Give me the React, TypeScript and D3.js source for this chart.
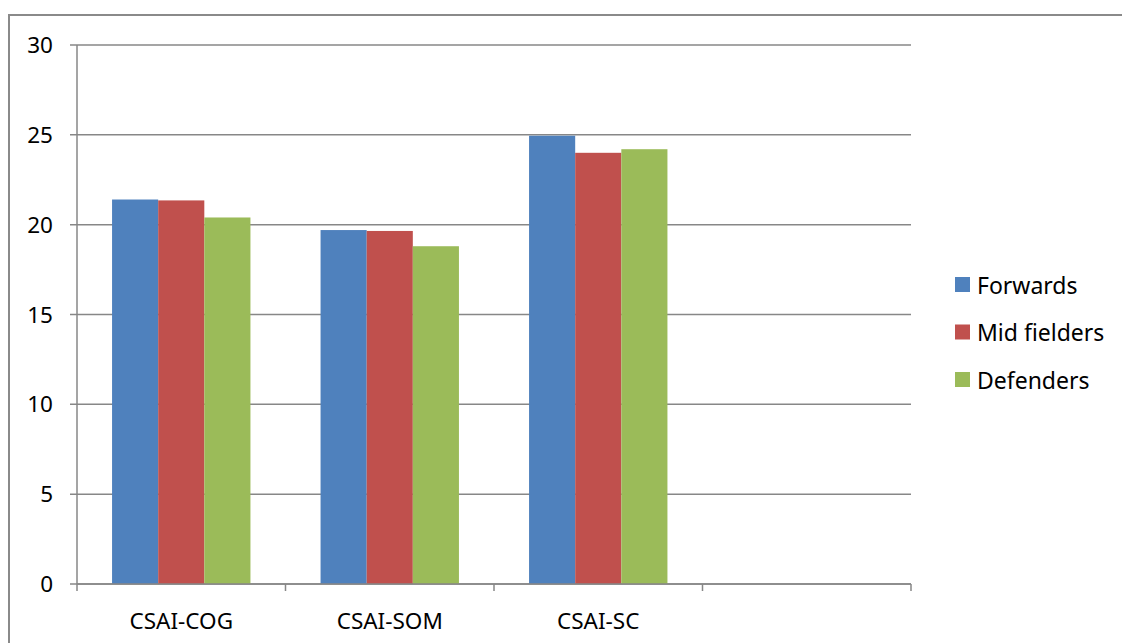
import * as d3 from 'd3';
import React from 'react';

const categories = ['CSAI-COG', 'CSAI-SOM', 'CSAI-SC', ''];
const seriesNames = ['Forwards', 'Mid fielders', 'Defenders'];
const forwards = [21.4, 19.7, 24.95];
const midFielders = [21.35, 19.65, 24.0];
const defenders = [20.4, 18.8, 24.2];
const yTicks = [0, 5, 10, 15, 20, 25, 30];
const colors = ['#4F81BD', '#C0504D', '#9BBB59'];

const W = 1122;
const H = 643;
const plot = { left: 77, right: 911, top: 45, bottom: 584 };
const font = "'Noto Sans', 'Open Sans', sans-serif";
const gridColor = '#878787';

const App = () => {
  const values = [forwards, midFielders, defenders];

  const x0 = d3
    .scaleBand<string>()
    .domain(categories)
    .range([plot.left, plot.right])
    .paddingInner(0)
    .paddingOuter(0);

  const x1 = d3
    .scaleBand<string>()
    .domain(seriesNames)
    .range([0, x0.bandwidth()])
    .paddingInner(0)
    .paddingOuter(0.76);

  const y = d3.scaleLinear().domain([0, 30]).range([plot.bottom, plot.top]);

  // boundaries between categories, for the tick marks under the axis
  const boundaries = categories.map((c) => x0(c) as number).concat(plot.right);

  return (
    <svg
      width={W}
      height={H}
      style={{ position: 'absolute', left: 0, top: 0, background: 'white' }}
    >
      {/* outer chart border */}
      <path d={`M9,${H + 2} V15 H${W + 2}`} fill="none" stroke="#8a8a8a" strokeWidth={2} />

      {/* gridlines, they stick out on the left as tick marks */}
      {yTicks.map((t) => (
        <line
          key={t}
          x1={plot.left - 7}
          x2={plot.right}
          y1={y(t)}
          y2={y(t)}
          stroke={gridColor}
          strokeWidth={1.5}
        />
      ))}
      {yTicks.map((t) => (
        <text
          key={'l' + t}
          x={53}
          y={y(t)}
          dy="0.36em"
          textAnchor="end"
          fontFamily={font}
          fontSize={22.5}
          fill="#000"
        >
          {t}
        </text>
      ))}

      {/* bars */}
      {values.map((vals, si) =>
        vals.map((v, ci) => (
          <rect
            key={si + '-' + ci}
            x={(x0(categories[ci]) as number) + (x1(seriesNames[si]) as number)}
            y={y(v)}
            width={x1.bandwidth()}
            height={y(0) - y(v)}
            fill={colors[si]}
          />
        ))
      )}

      {/* axes */}
      <line x1={plot.left} x2={plot.left} y1={plot.top} y2={plot.bottom} stroke={gridColor} strokeWidth={1.5} />
      <line x1={plot.left} x2={plot.right} y1={plot.bottom} y2={plot.bottom} stroke={gridColor} strokeWidth={1.5} />
      {boundaries.map((b, i) => (
        <line key={'t' + i} x1={b} x2={b} y1={plot.bottom} y2={plot.bottom + 7} stroke={gridColor} strokeWidth={1.5} />
      ))}
      {categories.map((c) => (
        <text
          key={'c' + c}
          x={(x0(c) as number) + x0.bandwidth() / 2}
          y={629}
          textAnchor="middle"
          fontFamily={font}
          fontSize={22.5}
          fill="#000"
        >
          {c}
        </text>
      ))}

      {/* legend */}
      {seriesNames.map((s, i) => (
        <g key={s} transform={`translate(955, ${277 + i * 47.5})`}>
          <rect width={15} height={15} fill={colors[i]} />
          <text x={22} y={16.5} fontFamily={font} fontSize={23} fill="#000">
            {s}
          </text>
        </g>
      ))}
    </svg>
  );
};

export default App;
